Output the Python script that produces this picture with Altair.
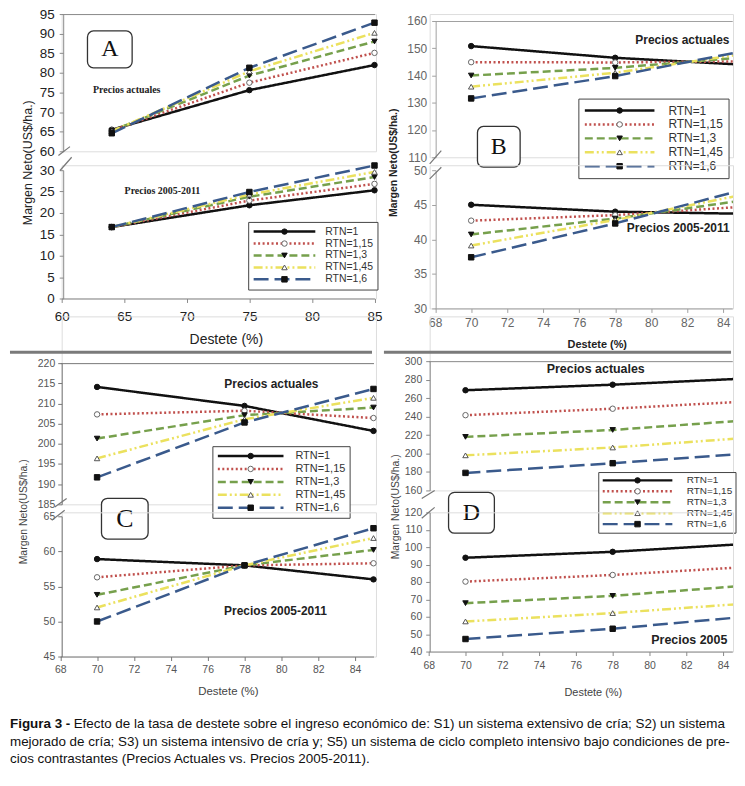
import altair as alt
import pandas as pd

# ---------------- data ----------------
SERIES = ["RTN=1", "RTN=1,15", "RTN=1,3", "RTN=1,45", "RTN=1,6"]
COLORS = ["#111111", "#c0504d", "#76a04c", "#ebe15e", "#3a5a8c"]
DASHES = [[1, 0], [2, 2.5], [8, 4], [9, 3, 2, 3, 2, 3], [15, 6]]
SHAPES = ["circle", "circle", "triangle-down", "triangle-up", "square"]
MARK_FILL = ["#111111", "#ffffff", "#111111", "#ffffff", "#111111"]
MARK_STROKE = ["#111111", "#666666", "#111111", "#555555", "#111111"]

DESTETE_A = [64, 75, 85]
DESTETE_BCD = [70, 78, 85]

A_ACTUAL = [[65.5, 75.6, 82.0], [65.3, 77.5, 85.1], [65.2, 79.3, 88.0], [65.1, 80.4, 90.2], [64.6, 81.3, 92.8]]
A_OLD = [[16.7, 21.8, 25.3], [16.7, 22.9, 26.8], [16.7, 23.8, 28.4], [16.7, 24.3, 29.6], [16.7, 24.9, 31.1]]
B_ACTUAL = [[150.8, 146.5, 144.0], [144.9, 144.8, 145.2], [140.0, 142.8, 146.6], [135.9, 141.0, 147.8], [131.6, 139.8, 148.8]]
B_OLD = [[45.0, 44.0, 43.7], [42.7, 43.5, 44.7], [40.7, 43.0, 45.6], [39.1, 42.8, 46.4], [37.4, 42.3, 47.1]]
C_ACTUAL = [[214.1, 209.4, 203.2], [207.3, 208.2, 206.4], [201.3, 207.1, 209.0], [196.4, 206.1, 211.4], [191.7, 205.3, 213.6]]
C_OLD = [[58.9, 58.0, 56.0], [56.3, 58.0, 58.3], [53.8, 58.0, 60.2], [52.0, 58.0, 61.9], [50.0, 58.0, 63.3]]
D_ACTUAL = [[268.5, 274.5, 281.0], [241.5, 248.5, 256.0], [218.0, 225.5, 235.5], [198.0, 206.5, 216.5], [179.0, 189.5, 199.5]]
D_OLD = [[93.9, 97.3, 101.7], [80.2, 84.0, 88.4], [67.8, 72.0, 77.7], [57.3, 62.1, 67.4], [47.2, 53.1, 59.8]]

TICKS_X_A = [60, 65, 70, 75, 80, 85]
TICKS_X_BCD = [68, 70, 72, 74, 76, 78, 80, 82, 84]
TICKS_A_TOP = [60, 65, 70, 75, 80, 85, 90, 95]
TICKS_A_BOT = [0, 5, 10, 15, 20, 25, 30]
TICKS_B_TOP = [110, 120, 130, 140, 150, 160]
TICKS_B_BOT = [30, 35, 40, 45, 50]
TICKS_C_TOP = [185, 190, 195, 200, 205, 210, 215, 220]
TICKS_C_BOT = [45, 50, 55, 60, 65]
TICKS_D_TOP = [160, 180, 200, 220, 240, 260, 280, 300]
TICKS_D_BOT = [40, 50, 60, 70, 80, 90, 100, 110, 120]

Y_TITLE = "Margen Neto(US$/ha.)"
X_TITLE = "Destete (%)"
ANN_ACT = "Precios actuales"
ANN_OLD = "Precios 2005-2011"
PANEL_LABELS = ["A", "B", "C", "D"]
CAPTION_BOLD = "Figura 3 -"
CAPTION = [
    "Efecto de la tasa de destete sobre el ingreso económico de: S1) un sistema extensivo de cría; S2) un sistema",
    "mejorado de cría; S3) un sistema intensivo de cría y; S5) un sistema de ciclo completo intensivo bajo condiciones de pre-",
    "cios contrastantes (Precios Actuales vs. Precios 2005-2011).",
]

FONT = "Liberation Sans"
SERIF = "Liberation Serif"


def frame(xs, table):
    rows = []
    for s, vals in zip(SERIES, table):
        for x, v in zip(xs, vals):
            rows.append({"x": x, "v": v, "series": s, "series_m": s})
    return pd.DataFrame(rows)


def one(text=""):
    return pd.DataFrame({"t": [text]})


ST_A = dict(lab=13.5, labc="#222222", dom="#8a8a8a", xpad=7, ypad=5, xt=14, tw="normal", tc="#222222", yt=12.5)
ST_B = dict(lab=12, labc="#666666", dom="#a0a0a0", xpad=5, ypad=5, xt=11, tw="bold", tc="#222222", yt=10.5)
ST_C = dict(lab=10.5, labc="#555555", dom="#777777", xpad=4, ypad=3, xt=11.5, tw="normal", tc="#444444", yt=10.5)
ST_D = dict(lab=10.5, labc="#555555", dom="#888888", xpad=5, ypad=4, xt=11, tw="normal", tc="#444444", yt=10.5)


def sc(dom, rng):
    return alt.Scale(domain=dom, range=rng, nice=False, zero=False)


def x_bottom(st, values, tx, ty):
    return alt.Axis(orient="bottom", values=values, tickCount=len(values), format="d", grid=False, labelFont=FONT,
                    labelFontSize=st["lab"], labelColor=st["labc"], labelPadding=st["xpad"], tickSize=4,
                    tickColor=st["dom"], domainColor=st["dom"], labelFlush=False, labelOverlap=False,
                    title=X_TITLE, titleFont=FONT, titleFontSize=st["xt"], titleFontWeight=st["tw"],
                    titleColor=st["tc"], titleX=tx, titleY=ty, titleAlign="center", titleBaseline="middle",
                    titleAngle=0)


def x_top(st, off):
    return alt.Axis(orient="top", labels=False, ticks=False, domain=True, grid=False, title=None,
                    offset=off, domainColor=st["dom"])


def y_axis(st, values, off, title=False, tx=0, ty=0):
    kw = dict(orient="left", values=values, tickCount=len(values), format="d", grid=False, labelFont=FONT,
              labelFontSize=st["lab"], labelColor=st["labc"], labelPadding=st["ypad"], tickSize=4,
              tickColor=st["dom"], domainColor=st["dom"], offset=off, labelFlush=False, labelOverlap=False)
    if title:
        kw.update(title=Y_TITLE, titleFont=FONT, titleFontSize=st["yt"], titleFontWeight=st["tw"],
                  titleColor=st["tc"], titleX=tx, titleY=ty, titleAngle=270, titleAlign="center",
                  titleBaseline="middle")
    else:
        kw.update(title=None)
    return alt.Axis(**kw)


def legends(lx, ly, L, fs, lo, ch, pad):
    line_leg = alt.Legend(orient="none", legendX=lx, legendY=ly, direction="vertical", title=None,
                          symbolType="stroke", symbolSize=L * L, symbolStrokeWidth=2.5, clipHeight=ch,
                          rowPadding=0, labelFontSize=fs, labelOffset=lo, labelFont=FONT, labelColor="#333333",
                          padding=pad, strokeColor="#444444", fillColor="#ffffff", cornerRadius=0, labelLimit=200)
    dx = (L + 3) / 2 - fs / 2
    mark_leg = alt.Legend(orient="none", legendX=lx + dx, legendY=ly, direction="vertical", title=None,
                          symbolSize=30, symbolStrokeWidth=1, clipHeight=ch, rowPadding=0,
                          labelFontSize=fs, labelOffset=lo, labelFont=FONT, labelExpr="''", padding=pad,
                          labelLimit=200)
    return line_leg, mark_leg


def cell(df, X, Y, w, h, leg=None, clip=False, extras=()):
    if leg:
        ll, ml = legends(*leg)
    else:
        ll, ml = None, None
    color = alt.Color("series:N", scale=alt.Scale(domain=SERIES, range=COLORS), legend=ll)
    dash = alt.StrokeDash("series:N", scale=alt.Scale(domain=SERIES, range=DASHES), legend=ll)
    lines = alt.Chart(df).mark_line(strokeWidth=2.5, clip=clip).encode(x=X, y=Y, color=color, strokeDash=dash)
    pts = alt.Chart(df).mark_point(filled=True, size=30, strokeWidth=1, opacity=1, clip=clip).encode(
        x=X, y=Y,
        shape=alt.Shape("series_m:N", scale=alt.Scale(range=SHAPES), legend=ml),
        fill=alt.Fill("series_m:N", scale=alt.Scale(range=MARK_FILL), legend=ml),
        stroke=alt.Stroke("series_m:N", scale=alt.Scale(range=MARK_STROKE), legend=ml),
    )
    return alt.layer(lines, pts, *extras).properties(width=w, height=h)


def ann(text, x, y, size, font=FONT, weight="bold", align="center", limit=None):
    mk = dict(fontSize=size, font=font, fontWeight=weight, align=align, baseline="middle", color="#222222")
    if limit:
        mk.update(limit=limit, ellipsis=" ")
    return alt.Chart(one(text)).mark_text(**mk).encode(x=alt.datum(x), y=alt.datum(y), text="t:N")


def box(label, x1, x2, y1, y2, size):
    r = alt.Chart(one(label)).mark_rect(fill="#ffffff", stroke="#333333", strokeWidth=1.3, cornerRadius=6).encode(
        x=alt.datum(x1), x2=alt.datum(x2), y=alt.datum(y1), y2=alt.datum(y2))
    t = alt.Chart(one(label)).mark_text(font=SERIF, fontSize=size, color="#111111", baseline="middle").encode(
        x=alt.datum((x1 + x2) / 2), y=alt.datum((y1 + y2) / 2), text="t:N")
    return [r, t]


def deco(x1, y1, x2, y2, color="#777777", width=1.2):
    return alt.Chart(one()).mark_rule(color=color, strokeWidth=width).encode(
        x=alt.value(x1), y=alt.value(y1), x2=alt.value(x2), y2=alt.value(y2))


def caption_layers():
    out = [alt.Chart(one(CAPTION_BOLD)).mark_text(font=FONT, fontSize=13.5, fontWeight="bold", align="left",
                                                   baseline="middle", color="#111111").encode(
        x=alt.value(-52), y=alt.value(213), text="t:N")]
    xs = [12, -52, -52]
    ys = [213, 231, 248]
    for line, xx, yy in zip(CAPTION, xs, ys):
        out.append(alt.Chart(one(line)).mark_text(font=FONT, fontSize=13.5, align="left", baseline="middle",
                                                  color="#111111").encode(x=alt.value(xx), y=alt.value(yy), text="t:N"))
    return out


# ---------------- panel A ----------------
xa = sc([60, 85], [0, 314.5])
A_top = cell(frame(DESTETE_A, A_ACTUAL),
             alt.X("x:Q", scale=xa, axis=x_top(ST_A, 0)),
             alt.Y("v:Q", scale=sc([60, 95], [138, 0]), axis=y_axis(ST_A, TICKS_A_TOP, -1.5, True, -35.5, 149)),
             316, 138,
             extras=[ann(ANN_ACT, 65.2, 75.7, 10, font=SERIF)] + box(PANEL_LABELS[0], 62.06, 65.63, 90.69, 81.3, 24)
             + [deco(-3.3, 142.3, 8.3, 133.3)])
A_bot = cell(frame(DESTETE_A, A_OLD),
             alt.X("x:Q", scale=xa, axis=x_bottom(ST_A, TICKS_X_A, 165, 41)),
             alt.Y("v:Q", scale=sc([0, 30], [134, 5]), axis=y_axis(ST_A, TICKS_A_BOT, -1.5)),
             316, 134, leg=(187.5, 57, 62, 10.5, 8.5, 11.5, 4),
             extras=[ann(ANN_OLD, 68.05, 25.1, 10, font=SERIF), deco(-1.7, 5.3, 10, -8)])

# ---------------- panel B ----------------
xb = sc([68, 84.5], [5.5, 304.2])
B_top = cell(frame(DESTETE_BCD, B_ACTUAL),
             alt.X("x:Q", scale=xb, axis=x_top(ST_B, -7)),
             alt.Y("v:Q", scale=sc([110, 160], [144, 7]), axis=y_axis(ST_B, TICKS_B_TOP, -6, True, -42, 149)),
             305, 144, leg=(149.5, 85, 70, 12, 12.5, 14, 5), clip=True,
             extras=[ann(ANN_ACT, 81.73, 153.1, 12)] + box(PANEL_LABELS[1], 70.35, 72.72, 121.3, 106.4, 24)
             + [deco(0, 150.7, 11.7, 137.3)])
B_bot = cell(frame(DESTETE_BCD, B_OLD),
             alt.X("x:Q", scale=xb, axis=x_bottom(ST_B, TICKS_X_BCD, 168, 36)),
             alt.Y("v:Q", scale=sc([30, 50], [144, 5]), axis=y_axis(ST_B, TICKS_B_BOT, -6)),
             305, 144, clip=True,
             extras=[ann(ANN_OLD, 81.5, 41.6, 12), deco(0, 13.7, 11.7, 2)])

# ---------------- panel C ----------------
xc = sc([68, 85], [-1.5, 313.5])
C_top = cell(frame(DESTETE_BCD, C_ACTUAL),
             alt.X("x:Q", scale=xc, axis=x_top(ST_C, -47)),
             alt.Y("v:Q", scale=sc([185, 220], [189, 47]), axis=y_axis(ST_C, TICKS_C_TOP, 0, True, -38, 196)),
             316, 189, leg=(151.5, 130.5, 66, 11, 10.5, 11.8, 4),
             extras=[ann(ANN_ACT, 79.46, 214.8, 12)] + box(PANEL_LABELS[2], 70.24, 72.77, 186.5, 176.4, 26)
             + [deco(-7, 191.7, 5, 183), deco(-52, 36, 312, 36, color="#7a7a7a", width=3)])
C_bot = cell(frame(DESTETE_BCD, C_OLD),
             alt.X("x:Q", scale=xc, axis=x_bottom(ST_C, TICKS_X_BCD, 167, 35)),
             alt.Y("v:Q", scale=sc([45, 65], [145, 4]), axis=y_axis(ST_C, TICKS_C_BOT, 0)),
             316, 145,
             extras=[ann(ANN_OLD, 79.68, 51.5, 12), deco(-10, 8, 3, -2)] + caption_layers())

# ---------------- panel D ----------------
xd = sc([68, 84.5], [-1, 304.25])
D_top = cell(frame(DESTETE_BCD, D_ACTUAL),
             alt.X("x:Q", scale=xd, axis=x_top(ST_D, -45)),
             alt.Y("v:Q", scale=sc([160, 300], [175, 45]), axis=y_axis(ST_D, TICKS_D_TOP, 0, True, -34, 191)),
             305, 175, leg=(169.5, 156.5, 70, 10, 13, 10.75, 3), clip=True,
             extras=[ann(ANN_ACT, 77.08, 291.4, 12.5)] + box(PANEL_LABELS[3], 69.08, 71.57, 157.9, 113.7, 24)
             + [deco(-8, 183, 5, 175), deco(-46, 36, 303, 36, color="#7a7a7a", width=3)])
D_bot = cell(frame(DESTETE_BCD, D_OLD),
             alt.X("x:Q", scale=xd, axis=x_bottom(ST_D, TICKS_X_BCD, 164, 41)),
             alt.Y("v:Q", scale=sc([40, 120], [140, 0]), axis=y_axis(ST_D, TICKS_D_BOT, 0)),
             305, 140, clip=True,
             extras=[ann(ANN_OLD, 80.1, 46.9, 12.5, align="left", limit=82), deco(-8, 6, 5, -5)])

chart = alt.concat(A_top, B_top, A_bot, B_bot, C_top, D_top, C_bot, D_bot,
                   columns=2, spacing={"row": 8, "column": 54}, bounds="flush")
chart = chart.resolve_scale(x="independent", y="independent").resolve_legend(
    color="independent", strokeDash="independent", shape="independent", fill="independent", stroke="independent")
chart = chart.properties(padding={"left": 0, "top": -4, "right": 0, "bottom": 0}, background="#ffffff")
chart = chart.configure_view(stroke=None).configure(font=FONT)

chart.save("out.html", embed_options={"renderer": "svg", "actions": False})
